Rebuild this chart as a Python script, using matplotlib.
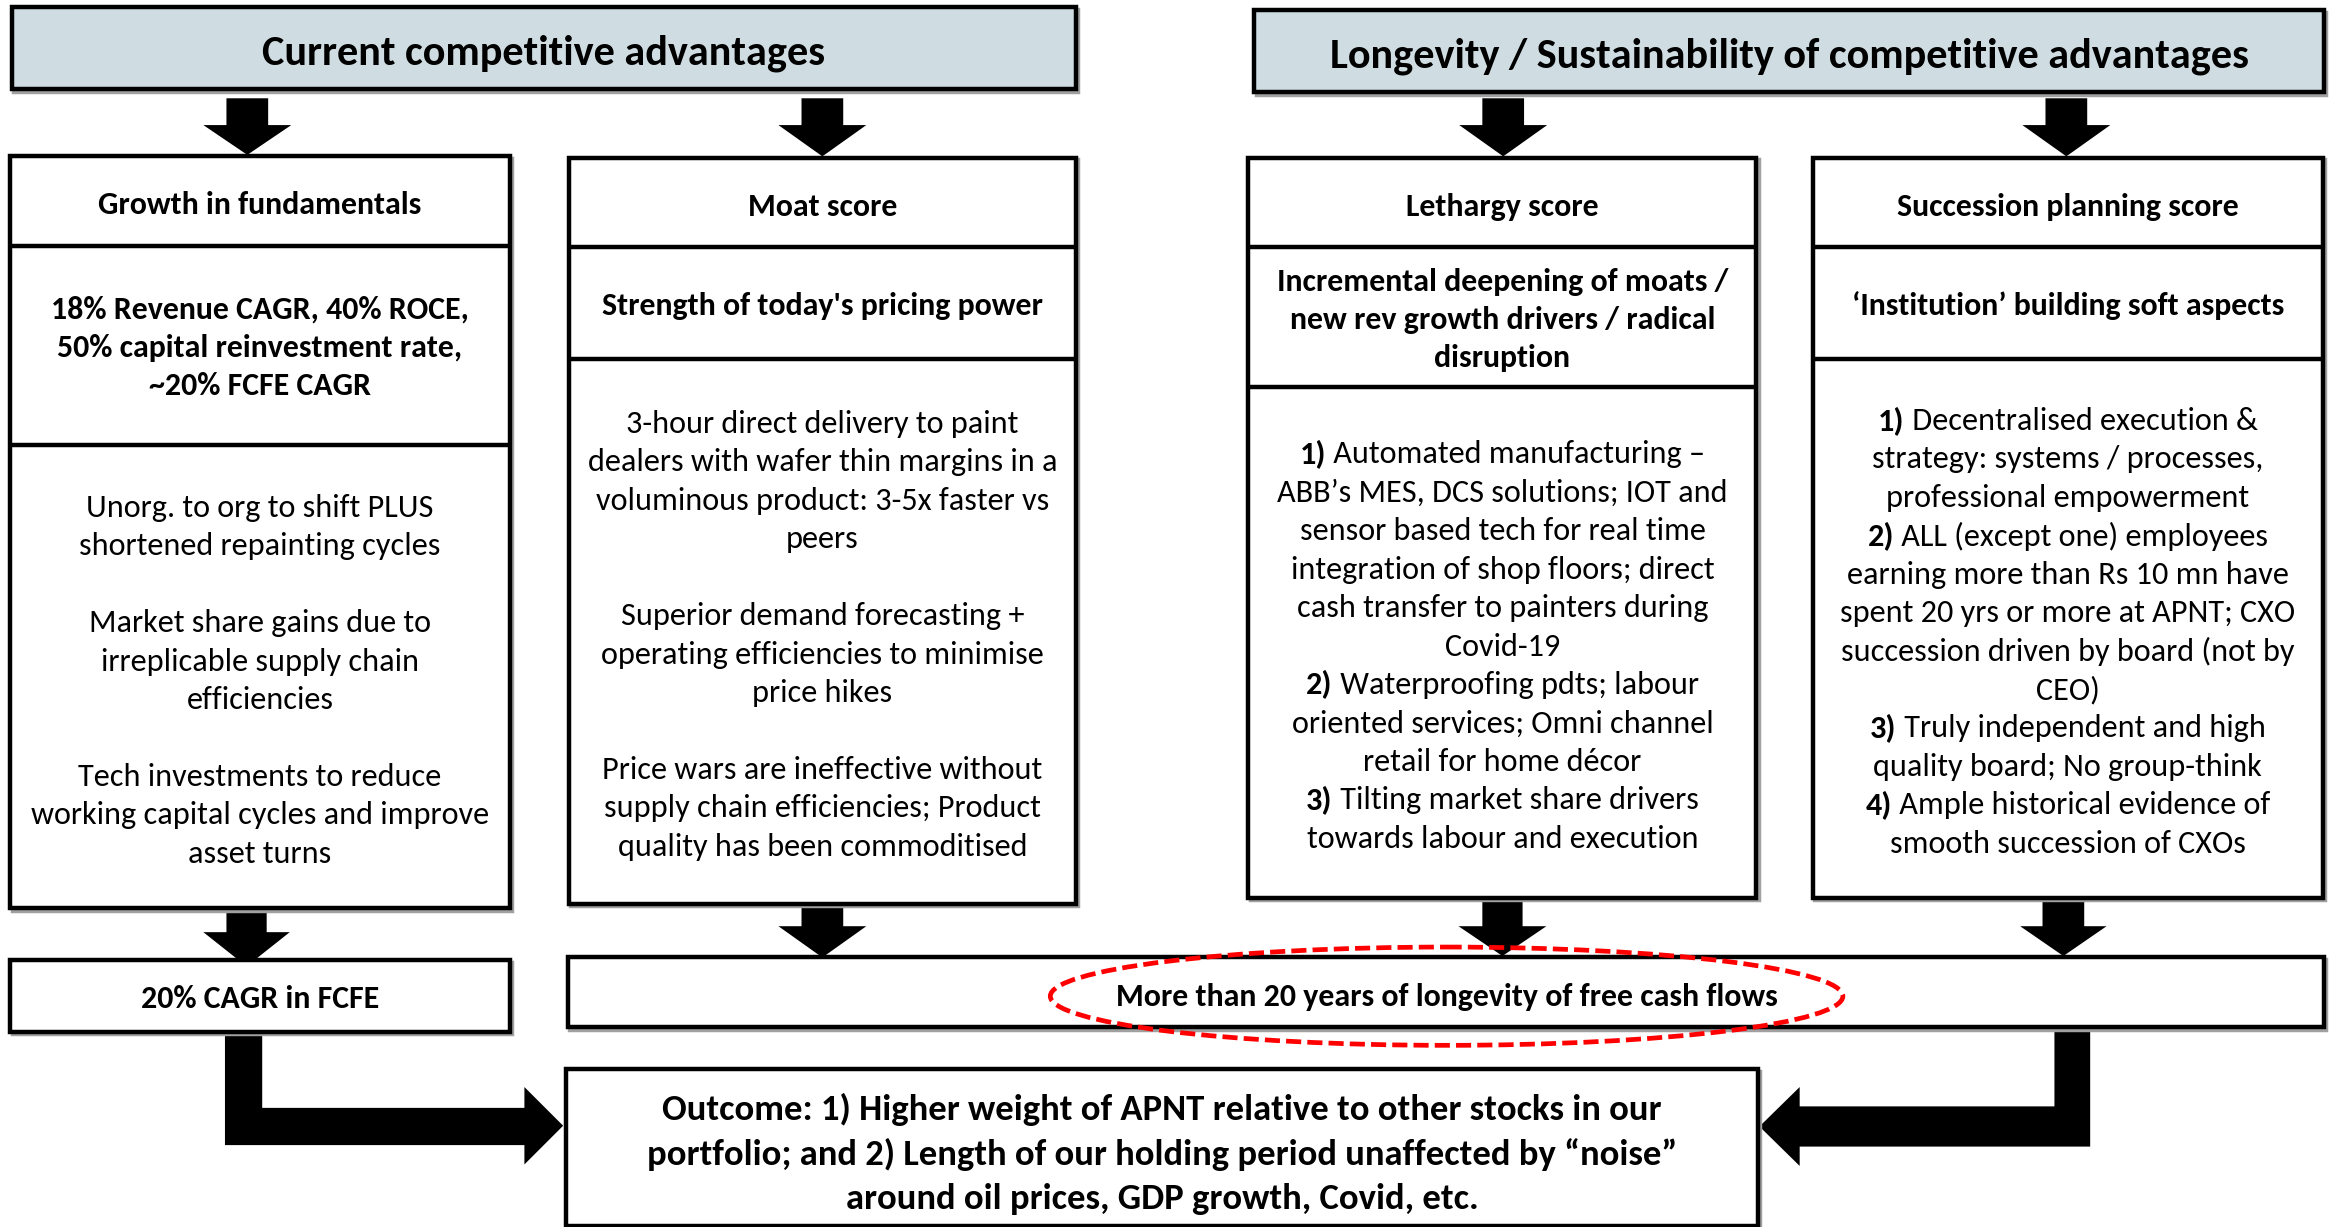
import re
import matplotlib
matplotlib.use('Agg')
import matplotlib.pyplot as plt
from matplotlib.patches import Rectangle, Polygon, Ellipse
from matplotlib import font_manager as fm

def pick_font(cands):
    for c in cands:
        try:
            fm.findfont(fm.FontProperties(family=c), fallback_to_default=False)
            return c
        except Exception:
            pass
    return 'DejaVu Sans'

FONT = pick_font(['Carlito', 'Lato', 'Open Sans'])
plt.rcParams['font.family'] = [FONT, 'DejaVu Sans']

# ---------------- data (texts) ----------------
top_titles = ["Current competitive advantages",
              "Longevity / Sustainability of competitive advantages"]
column_headers = ["Growth in fundamentals", "Moat score",
                  "Lethargy score", "Succession planning score"]
column_subheads = [
    ["18% Revenue CAGR, 40% ROCE,", "50% capital reinvestment rate,", "~20% FCFE CAGR"],
    ["Strength of today's pricing power"],
    ["Incremental deepening of moats /", "new rev growth drivers / radical", "disruption"],
    ["\u2018Institution\u2019 building soft aspects"],
]
column_bodies = [
    ["Unorg. to org to shift PLUS", "shortened repainting cycles", "",
     "Market share gains due to", "irreplicable supply chain", "efficiencies", "",
     "Tech investments to reduce", "working capital cycles and improve", "asset turns"],
    ["3-hour direct delivery to paint", "dealers with wafer thin margins in a",
     "voluminous product: 3-5x faster vs", "peers", "",
     "Superior demand forecasting +", "operating efficiencies to minimise", "price hikes", "",
     "Price wars are ineffective without", "supply chain efficiencies; Product",
     "quality has been commoditised"],
    ["1) Automated manufacturing \u2013", "ABB\u2019s MES, DCS solutions; IOT and",
     "sensor based tech for real time", "integration of shop floors; direct",
     "cash transfer to painters during", "Covid-19",
     "2) Waterproofing pdts; labour", "oriented services; Omni channel",
     "retail for home d\u00e9cor",
     "3) Tilting market share drivers", "towards labour and execution"],
    ["1) Decentralised execution &", "strategy: systems / processes,",
     "professional empowerment",
     "2) ALL (except one) employees", "earning more than Rs 10 mn have",
     "spent 20 yrs or more at APNT; CXO", "succession driven by board (not by", "CEO)",
     "3) Truly independent and high", "quality board; No group-think",
     "4) Ample historical evidence of", "smooth succession of CXOs"],
]
result_left = "20% CAGR in FCFE"
result_right = "More than 20 years of longevity of free cash flows"
outcome_lines = ["Outcome: 1) Higher weight of APNT relative to other stocks in our",
                 "portfolio; and 2) Length of our holding period unaffected by \u201cnoise\u201d",
                 "around oil prices, GDP growth, Covid, etc."]

# ---------------- layout ----------------
W, H = 1568.0, 824.0
FIG_W, FIG_H = 2336, 1227
fig = plt.figure(figsize=(FIG_W / 100, FIG_H / 100), dpi=100)
ax = fig.add_axes([0, 0, 1, 1])
ax.set_xlim(0, W)
ax.set_ylim(H, 0)
ax.axis('off')
fig.patch.set_facecolor('white')
renderer = fig.canvas.get_renderer()

LW = 3.2
SHADOW = '#a0a0a0'


def text_w(s, size, weight):
    t = ax.text(0, 0, s, fontsize=size, fontweight=weight)
    bb = t.get_window_extent(renderer)
    t.remove()
    return bb.width * W / FIG_W


def fit(ref, target, weight):
    return 20 * target / text_w(ref, 20, weight)


S_TITLE = fit(top_titles[0], 378, 'bold')
S_HEAD = fit(column_headers[0], 217, 'bold')
S_BODY = fit("working capital cycles and improve", 308, 'normal')
S_OUT = fit(outcome_lines[1], 691, 'bold')


def box(x0, y0, x1, y1, fc='white', z=2):
    ax.add_patch(Rectangle((x0 + 1.6, y0 + 1.6), x1 - x0, y1 - y0, fc='none',
                           ec=SHADOW, lw=LW, zorder=z - 0.1))
    ax.add_patch(Rectangle((x0, y0), x1 - x0, y1 - y0, fc=fc, ec='black',
                           lw=LW, zorder=z))


def hline(x0, x1, y, z=3):
    ax.plot([x0, x1], [y, y], color='black', lw=LW, zorder=z,
            solid_capstyle='butt')


def draw_line(cx, y, line, size, weight='normal', z=5):
    m = re.match(r'^(\d\))(\s.*)$', line)
    if m and weight == 'normal':
        segs = [(m.group(1), 'bold'), (m.group(2), 'normal')]
    else:
        segs = [(line, weight)]
    widths = [text_w(s, size, w) for s, w in segs]
    x = cx - sum(widths) / 2
    for (s, w), wd in zip(segs, widths):
        ax.text(x, y, s, fontsize=size, fontweight=w, ha='left',
                va='center_baseline', zorder=z)
        x += wd


def draw_block(cx, cy, lines, size, spacing, weight='normal'):
    n = len(lines)
    y0 = cy - spacing * (n - 1) / 2
    for i, ln in enumerate(lines):
        if ln:
            draw_line(cx, y0 + i * spacing, ln, size, weight)


def down_arrow(cx, y_top, y_head, y_tip, shaft=28, head=59, z=1):
    pts = [(cx - shaft / 2, y_top), (cx + shaft / 2, y_top), (cx + shaft / 2, y_head),
           (cx + head / 2, y_head), (cx, y_tip), (cx - head / 2, y_head),
           (cx - shaft / 2, y_head)]
    ax.add_patch(Polygon(pts, closed=True, fc='black', ec='none', zorder=z))


# title boxes
title_boxes = [(8, 5, 722, 60), (842, 7, 1560, 62)]
for (x0, y0, x1, y1), t in zip(title_boxes, top_titles):
    box(x0, y0, x1, y1, fc='#CFDDE2')
    draw_line((x0 + x1) / 2, (y0 + y1) / 2 + 0.5, t, S_TITLE, 'bold')

# columns
col_x = [(7, 342), (382, 722), (838, 1179), (1217, 1559)]
col_top = [105, 106, 106, 106]
col_div1 = [165, 166, 166, 166]
col_div2 = [299, 241, 260, 241]
col_bot = [610, 607, 603, 603]
arrow_cx = [166, 552, 1009, 1387]

for i in range(4):
    x0, x1 = col_x[i]
    cx = (x0 + x1) / 2
    box(x0, col_top[i], x1, col_bot[i])
    hline(x0, x1, col_div1[i])
    hline(x0, x1, col_div2[i])
    draw_line(cx, (col_top[i] + col_div1[i]) / 2 + 1, column_headers[i], S_HEAD, 'bold')
    draw_block(cx, (col_div1[i] + col_div2[i]) / 2, column_subheads[i], S_HEAD, 25.6, 'bold')
    draw_block(cx, (col_div2[i] + col_bot[i]) / 2 + 1, column_bodies[i], S_BODY, 25.8)
    # arrows above
    down_arrow(arrow_cx[i], 66, 84, col_top[i] - 1)

# arrows below columns
down_arrow(165.5, 610, 626, 649, shaft=27, head=58)
down_arrow(552, 607, 622, 643, shaft=28, head=59)
down_arrow(1008.5, 603, 622, 642, shaft=27, head=59)
down_arrow(1385, 603, 622, 642, shaft=28, head=58)

# result boxes
box(7, 645, 342, 693, z=3)
draw_line(174.5, 669, result_left, S_HEAD, 'bold')
box(381, 643, 1560, 690, z=3)
draw_line(971, 668, result_right, S_HEAD, 'bold')
ax.add_patch(Ellipse((971, 669), 532, 66, fill=False, ec='#FF0000', lw=3.4,
                     ls=(0, (3.2, 1.3)), zorder=8))

# elbow arrows
left_elbow = [(151, 692), (176, 692), (176, 744), (352, 744), (352, 730), (378, 756),
              (352, 782), (352, 769), (151, 769)]
right_elbow = [(1403, 689), (1379, 689), (1379, 743), (1208, 743), (1208, 730),
               (1181, 756.5), (1208, 783), (1208, 770), (1403, 770)]
for pts in (left_elbow, right_elbow):
    ax.add_patch(Polygon(pts, closed=True, fc='black', ec='none', zorder=1))

# outcome box
box(380, 718, 1180, 823, z=3)
draw_block(780, 773, outcome_lines, S_OUT, 30, 'bold')

fig.savefig('out.png', dpi=100, facecolor='white')
